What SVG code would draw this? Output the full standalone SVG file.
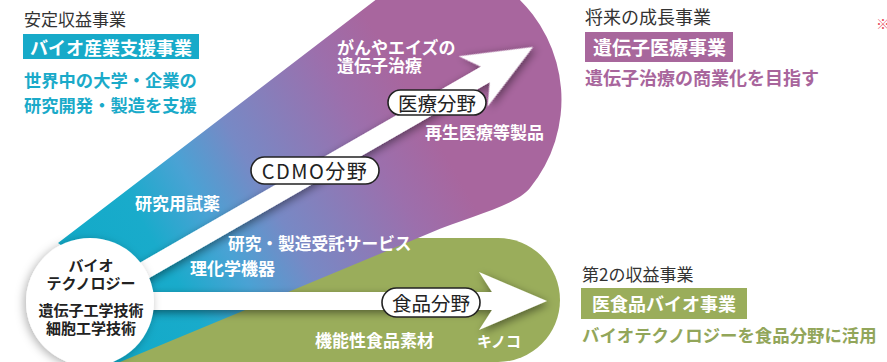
<svg xmlns="http://www.w3.org/2000/svg" width="887" height="362" viewBox="0 0 887 362">
<style>
  text { font-family: "Noto Sans CJK JP", "Noto Sans", sans-serif; }
  .hd { font-size: 17px; fill: #333333; }
  .boxt { font-size: 18px; font-weight: bold; fill: #ffffff; }
  .wl { font-size: 17px; font-weight: bold; fill: #ffffff; }
  .ct { font-size: 15px; font-weight: bold; fill: #222222; text-anchor: middle; }
  .pill { fill: #ffffff; stroke: #222222; stroke-width: 1.6; }
  .pt { font-size: 19.5px; fill: #222222; text-anchor: middle; dominant-baseline: central; }
  .arrow { fill: #ffffff; }
</style>
<defs>
  <linearGradient id="fan" gradientUnits="userSpaceOnUse" x1="90" y1="300" x2="420" y2="110">
    <stop offset="0" stop-color="#12aac8"/>
    <stop offset="0.22" stop-color="#19abcb"/>
    <stop offset="0.38" stop-color="#4aa2d4"/>
    <stop offset="0.54" stop-color="#7789c5"/>
    <stop offset="0.84" stop-color="#9c6fac"/>
    <stop offset="1" stop-color="#a8669e"/>
  </linearGradient>
  <filter id="sh" x="-20%" y="-40%" width="140%" height="180%">
    <feDropShadow dx="2" dy="3" stdDeviation="4" flood-color="#000000" flood-opacity="0.45"/>
  </filter>
  <filter id="csh" x="-30%" y="-30%" width="160%" height="160%">
    <feDropShadow dx="-2" dy="2" stdDeviation="5" flood-color="#000000" flood-opacity="0.3"/>
  </filter>
</defs>

<!-- background regions -->
<g id="food-region">
  <path d="M90,238 L498,238 A62,62 0 0 1 498,362 L90,362 Z" fill="#9aad5b"/>
</g>
<g id="cdmo-medical-region">
  <path d="M382,-5 L58,243 L75,255 L90,302 L77,380 L120,362 L430,233 C470,216 514,207 530,188 A140,140 0 0 0 514.6,-5 Z" fill="url(#fan)"/>
</g>

<!-- connectors -->
<g id="connectors">
  <path class="arrow" filter="url(#sh)" transform="translate(533,47) rotate(-29.9)" d="M0,0 L-69,-29 L-55,-9 L-500,-9 L-500,9 L-55,9 L-69,29 Z"/>
  <path class="arrow" filter="url(#sh)" d="M547,301 L479,272 L492,292 L100,292 L100,310 L492,310 L479,330 Z"/>
</g>

<!-- labels on the regions -->
<g id="region-labels">
  <text class="wl" x="337" y="54" font-size="16.5">がんやエイズの</text>
  <text class="wl" x="337" y="72">遺伝子治療</text>
  <text class="wl" x="425" y="139">再生医療等製品</text>
  <text class="wl" x="135" y="210">研究用試薬</text>
  <text class="wl" x="228" y="250" style="font-size:16.7px">研究・製造受託サービス</text>
  <text class="wl" x="190" y="275">理化学機器</text>
  <text class="wl" x="315" y="347">機能性食品素材</text>
  <text class="wl" x="477" y="347" style="font-size:15px">キノコ</text>
</g>

<!-- pills -->
<g id="pill-cdmo">
  <rect class="pill" x="251" y="157" width="128" height="27" rx="13.5"/>
  <text class="pt" x="315" y="170.5" style="font-size:20px;letter-spacing:1.5px">CDMO分野</text>
</g>
<g id="pill-medical">
  <rect class="pill" x="388" y="90" width="98" height="25" rx="12.5"/>
  <text class="pt" x="437" y="102.5">医療分野</text>
</g>
<g id="pill-food">
  <rect class="pill" x="382" y="288" width="98" height="29" rx="14.5"/>
  <text class="pt" x="431" y="302.5">食品分野</text>
</g>

<!-- origin node -->
<g id="biotech-node">
  <circle cx="90" cy="302" r="64" fill="#ffffff" filter="url(#csh)"/>
  <text class="ct" x="91" y="271">バイオ</text>
  <text class="ct" x="91" y="289">テクノロジー</text>
  <text class="ct" x="91" y="316">遺伝子工学技術</text>
  <text class="ct" x="91" y="334">細胞工学技術</text>
</g>

<!-- legends -->
<g id="legend-stable">
  <text class="hd" x="24" y="26">安定収益事業</text>
  <rect x="23" y="34" width="176" height="25" fill="#17aac9"/>
  <text class="boxt" x="30" y="54.5">バイオ産業支援事業</text>
  <text x="24" y="87" style="font-size:17.3px;font-weight:bold;fill:#1aaac9">世界中の大学・企業の</text>
  <text x="24" y="112" style="font-size:17.3px;font-weight:bold;fill:#1aaac9">研究開発・製造を支援</text>
</g>
<g id="legend-future">
  <text class="hd" x="585" y="24" style="font-size:18px">将来の成長事業</text>
  <rect x="585" y="32" width="148" height="30" fill="#a8679c"/>
  <text class="boxt" x="593" y="54.5" style="font-size:19px">遺伝子医療事業</text>
  <text x="585" y="85" style="font-size:18px;font-weight:bold;fill:#a8659c">遺伝子治療の商業化を目指す</text>
  <text x="876" y="29" style="font-size:14px;fill:#e8505f">※</text>
</g>
<g id="legend-second">
  <text class="hd" x="582" y="281">第2の収益事業</text>
  <rect x="581" y="288" width="166" height="31" fill="#9aad5b"/>
  <text class="boxt" x="592" y="311">医食品バイオ事業</text>
  <text x="582" y="342" style="font-size:17.4px;font-weight:bold;fill:#92a65a">バイオテクノロジーを食品分野に活用</text>
</g>
</svg>
